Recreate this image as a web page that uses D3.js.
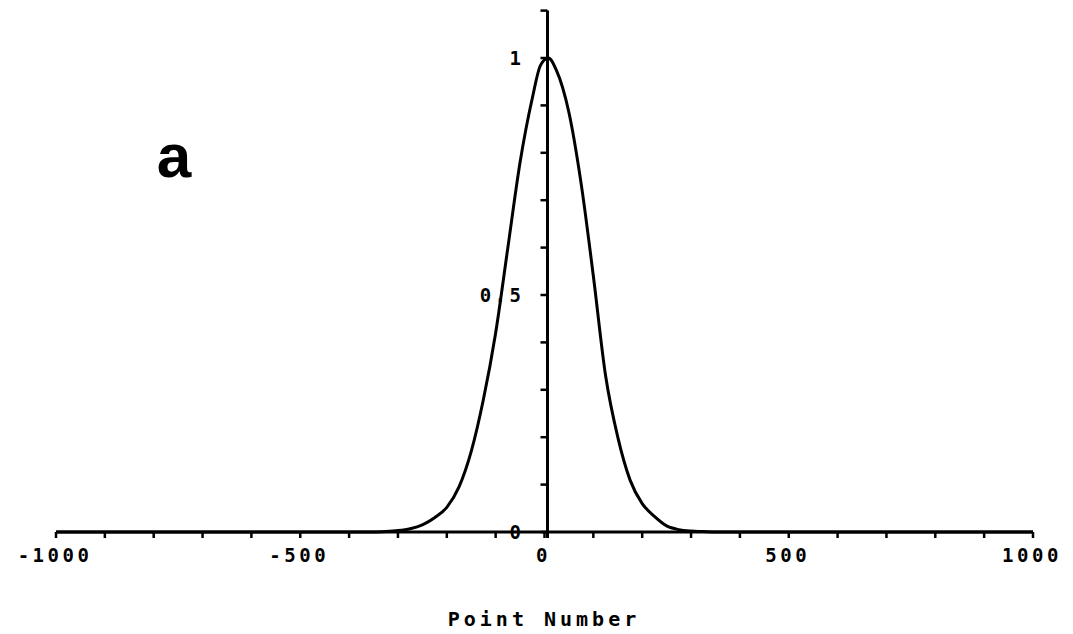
<!DOCTYPE html>
<html>
<head>
<meta charset="utf-8">
<script src="https://cdn.jsdelivr.net/npm/d3@7"></script>
<style>
  html, body { margin: 0; padding: 0; background: #fff; }
  svg { display: block; }
  .tick-label { font-family: "DejaVu Sans Mono", monospace; font-weight: bold; font-size: 19px; letter-spacing: 3.5px; fill: #000; }
</style>
</head>
<body>
<svg id="chart" width="1073" height="634"></svg>
<script>
// ---- data ----
const pointNumbers = [-1000, -900, -800, -700, -600, -500, -400, -350, -325, -300, -275, -250, -225, -200, -175, -150, -125, -100, -75, -50, -25, -8, 8, 24, 50, 75, 100, 125, 150, 175, 200, 225, 250, 275, 300, 325, 350, 400, 500, 600, 700, 800, 900, 1000];
const amplitudes   = [0, 0, 0, 0, 0, 0, 0, 0, 0.001, 0.003, 0.007, 0.015, 0.03, 0.052, 0.095, 0.17, 0.28, 0.42, 0.6, 0.78, 0.915, 0.985, 1.0, 0.975, 0.885, 0.735, 0.54, 0.33, 0.2, 0.11, 0.06, 0.033, 0.013, 0.005, 0.002, 0.001, 0, 0, 0, 0, 0, 0, 0, 0];
const xTickValues = [-1000, -500, 0, 500, 1000];
const xTickLabels = ["-1000", "-500", "0", "500", "1000"];
const xMinorTicks = d3.range(-1000, 1001, 100);
const yTickValues = [0, 0.5, 1];
const yTickLabels = ["0", "0.5", "1"];
const yMinorTicks = d3.range(0, 12).map(i => i / 10);
const panelLetter = "a";
const xTitle = "Point Number";

// ---- drawing ----
const svg = d3.select("#chart");
const x = d3.scaleLinear().domain([-1000, 1000]).range([56, 1033]);
const y = d3.scaleLinear().domain([0, 1]).range([532, 58]);
const yTop = 1.1;

const g = svg.append("g");

// x axis line
g.append("line")
  .attr("x1", x(-1000)).attr("x2", x(1000))
  .attr("y1", y(0)).attr("y2", y(0))
  .attr("stroke", "#000").attr("stroke-width", 3);

// x ticks (downward)
g.selectAll(".xt").data(xMinorTicks).enter().append("line")
  .attr("x1", d => x(d)).attr("x2", d => x(d))
  .attr("y1", y(0)).attr("y2", y(0) + 6)
  .attr("stroke", "#000").attr("stroke-width", 2.5);

// x tick labels
g.selectAll(".xl").data(xTickValues).enter().append("text")
  .attr("class", "tick-label")
  .attr("x", d => x(d) - 1)
  .attr("y", y(0) + 30)
  .attr("text-anchor", "middle")
  .text((d, i) => xTickLabels[i]);

// y axis line
g.append("line")
  .attr("x1", x(0) + 3).attr("x2", x(0) + 3)
  .attr("y1", y(0) + 6).attr("y2", y(yTop))
  .attr("stroke", "#000").attr("stroke-width", 3);

// y ticks (to the left)
g.selectAll(".yt").data(yMinorTicks).enter().append("line")
  .attr("x1", x(0) + 3).attr("x2", x(0) - 4)
  .attr("y1", d => y(d)).attr("y2", d => y(d))
  .attr("stroke", "#000").attr("stroke-width", 2.5);

// y tick labels
g.selectAll(".yl").data(yTickValues).enter().append("text")
  .attr("class", "tick-label")
  .attr("x", x(0) - 20)
  .attr("y", d => y(d) + 7)
  .attr("text-anchor", "end")
  .text((d, i) => yTickLabels[i]);

// curve
const line = d3.line()
  .x((d, i) => x(pointNumbers[i]))
  .y(d => y(d))
  .curve(d3.curveMonotoneX);
g.append("path")
  .datum(amplitudes)
  .attr("d", line)
  .attr("fill", "none")
  .attr("stroke", "#000")
  .attr("stroke-width", 3)
  .attr("stroke-linejoin", "round");

// panel letter
svg.append("text")
  .attr("x", 174).attr("y", 177)
  .attr("text-anchor", "middle")
  .attr("font-family", "Liberation Sans, Arial, sans-serif")
  .attr("font-weight", "bold")
  .attr("font-size", 62)
  .text(panelLetter);

// x title
svg.append("text")
  .attr("x", 544).attr("y", 626)
  .attr("text-anchor", "middle")
  .attr("font-family", "DejaVu Sans Mono, monospace")
  .attr("font-weight", "bold")
  .attr("font-size", 20)
  .attr("letter-spacing", "4px")
  .text(xTitle);
</script>
</body>
</html>
